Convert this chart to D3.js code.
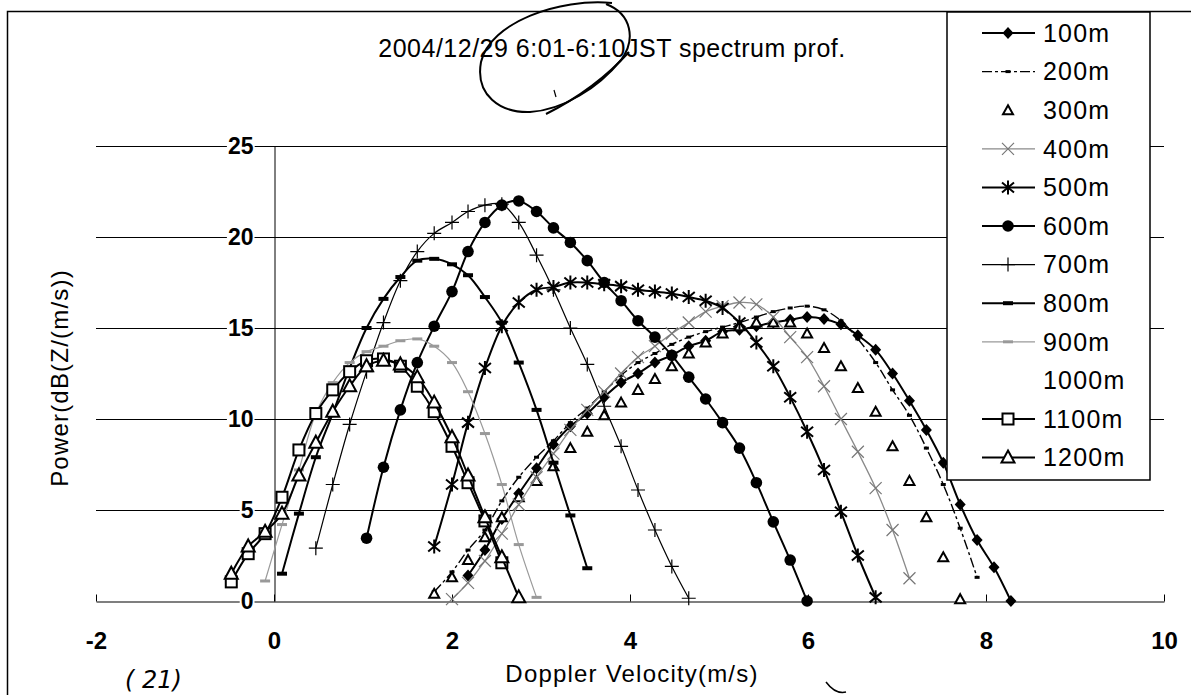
<!DOCTYPE html>
<html>
<head>
<meta charset="utf-8">
<script src="https://cdn.jsdelivr.net/npm/d3@7"></script>
<style>
  html, body { margin: 0; padding: 0; background: #fff; }
  #chart { width: 1191px; height: 695px; }
  text { font-family: "Liberation Sans", Arial, sans-serif; fill: #000; }
</style>
</head>
<body>
<div id="chart"></div>
<script>
// Doppler velocity bins (m/s) shared by every height
const velocity = [-0.48, -0.29, -0.10, 0.09, 0.28, 0.47, 0.66, 0.85, 1.04, 1.23,
  1.42, 1.61, 1.80, 2.00, 2.18, 2.37, 2.56, 2.75, 2.95, 3.14,
  3.33, 3.52, 3.71, 3.90, 4.09, 4.28, 4.47, 4.66, 4.85, 5.04,
  5.23, 5.42, 5.61, 5.80, 5.99, 6.18, 6.37, 6.56, 6.76, 6.95,
  7.14, 7.33, 7.52, 7.71, 7.90, 8.09, 8.28];

const xTicks = [-2, 0, 2, 4, 6, 8, 10];
const yTicks = [0, 5, 10, 15, 20, 25];

const heights = ["100m", "200m", "300m", "400m", "500m", "600m",
  "700m", "800m", "900m", "1000m", "1100m", "1200m"];

// power dB(Z/(m/s)); first value sits on velocity[startBin]
const p100m = [1.4, 2.8, 4.5, 5.9, 7.3, 8.6, 9.6, 10.3, 11.2, 12.0, 12.5, 13.1, 13.5, 14.0, 14.3, 14.8,
  14.9, 15.1, 15.3, 15.45, 15.6, 15.5, 15.2, 14.6, 13.8, 12.5, 11.0, 9.4, 7.6, 5.3, 3.35, 1.85, 0];
const p200m = [0.5, 1.6, 2.8, 3.9, 5.5, 6.8, 7.9, 8.8, 9.8, 10.6, 11.5, 12.4, 13.1, 13.6, 14.1, 14.5,
  14.8, 15.05, 15.3, 15.6, 15.9, 16.1, 16.2, 16.0, 15.4, 14.4, 13.1, 11.6, 10.2, 8.4, 6.4, 4.0, 1.3];
const p300m = [0.4, 1.3, 2.25, 3.5, 4.6, 5.7, 6.6, 7.4, 8.4, 9.3, 10.2, 10.9, 11.6, 12.2, 12.9, 13.6,
  14.2, 14.7, 15.1, 15.3, 15.3, 15.3, 14.7, 13.9, 12.9, 11.7, 10.4, 8.5, 6.6, 4.6, 2.4, 0.1];
const p400m = [0.1, 1.0, 2.2, 3.7, 5.3, 6.8, 8.1, 9.4, 10.5, 11.5, 12.5, 13.4, 14.0, 14.7, 15.3, 15.9,
  16.2, 16.4, 16.3, 15.6, 14.5, 13.4, 11.8, 10.0, 8.2, 6.2, 3.9, 1.25];
const p500m = [3.0, 6.4, 9.8, 12.8, 15.1, 16.4, 17.1, 17.25, 17.5, 17.5, 17.4, 17.3, 17.1, 17.0, 16.9,
  16.7, 16.5, 16.1, 15.3, 14.2, 12.9, 11.2, 9.3, 7.2, 4.9, 2.5, 0.2];
const p600m = [3.45, 7.35, 10.5, 13.1, 15.1, 17.0, 19.2, 20.8, 21.75, 21.98, 21.4, 20.5, 19.7, 18.7,
  17.5, 16.5, 15.4, 14.5, 13.5, 12.3, 11.1, 9.8, 8.4, 6.5, 4.35, 2.25, 0];
const p700m = [2.9, 6.4, 9.7, 12.6, 15.3, 17.6, 19.2, 20.2, 20.8, 21.4, 21.75, 21.8, 20.8, 19.0, 17.1,
  15.0, 13.0, 10.7, 8.5, 6.1, 3.9, 1.9, 0.15];
const p800m = [1.5, 4.8, 7.9, 10.3, 12.8, 15.0, 16.6, 17.8, 18.7, 18.8, 18.5, 17.9, 16.7, 15.3, 13.1,
  10.5, 7.6, 4.7, 1.8];
const p900m = [1.1, 4.2, 7.2, 10.3, 12.0, 13.1, 13.7, 14.0, 14.3, 14.4, 14.0, 13.1, 11.5, 9.2, 6.4, 3.1, 0.2];
const p1000m = [];
const p1100m = [1.05, 2.6, 3.7, 5.7, 8.3, 10.3, 11.6, 12.6, 13.2, 13.3, 12.9, 11.8, 10.4, 8.5, 6.5, 4.4, 2.1];
const p1200m = [1.5, 3.0, 3.8, 4.8, 6.9, 8.7, 10.4, 11.8, 12.9, 13.2, 13.0, 12.3, 10.9, 9.0, 6.9, 4.6, 2.4, 0.2];

const startBin = [14, 12, 12, 13, 12, 8, 5, 3, 2, 0, 0, 0];
const powers = [p100m, p200m, p300m, p400m, p500m, p600m, p700m, p800m, p900m, p1000m, p1100m, p1200m];

// how each height is drawn (line + marker)
const looks = [
  { stroke: "#000", width: 2, dash: null, marker: "diamond" },
  { stroke: "#000", width: 1.4, dash: "10,3,3,3", marker: "dash" },
  { stroke: "none", width: 0, dash: null, marker: "smallTri" },
  { stroke: "#8a8a8a", width: 1.3, dash: null, marker: "cross" },
  { stroke: "#000", width: 2, dash: null, marker: "star" },
  { stroke: "#000", width: 2, dash: null, marker: "dot" },
  { stroke: "#000", width: 1.2, dash: null, marker: "plus" },
  { stroke: "#000", width: 2, dash: null, marker: "bar" },
  { stroke: "#9a9a9a", width: 1.2, dash: null, marker: "grayBar" },
  { stroke: "none", width: 0, dash: null, marker: null },
  { stroke: "#000", width: 2, dash: null, marker: "square" },
  { stroke: "#000", width: 2, dash: null, marker: "tri" }
];

const series = heights.map((h, k) => ({
  name: h,
  points: powers[k].map((p, j) => [velocity[startBin[k] + j], p]),
  look: looks[k]
}));

function drawMarker(g, type) {
  switch (type) {
    case "diamond":
      g.append("path").attr("d", "M0,-6L5.5,0L0,6L-5.5,0Z").attr("fill", "#000");
      break;
    case "dash":
      g.append("rect").attr("x", -2.5).attr("y", -1.5).attr("width", 5).attr("height", 3).attr("fill", "#000");
      break;
    case "smallTri":
      g.append("path").attr("d", "M0,-5L5,4L-5,4Z").attr("fill", "#fff")
        .attr("stroke", "#000").attr("stroke-width", 2);
      break;
    case "cross":
      g.append("path").attr("d", "M-6,-6L6,6M-6,6L6,-6").attr("stroke", "#777").attr("stroke-width", 1.2);
      break;
    case "star":
      g.append("path").attr("d", "M0,-7V7M-6,-5L6,5M-6,5L6,-5").attr("stroke", "#000").attr("stroke-width", 2);
      break;
    case "dot":
      g.append("circle").attr("r", 5.8).attr("fill", "#000");
      break;
    case "plus":
      g.append("path").attr("d", "M-7,0H7M0,-7V7").attr("stroke", "#000").attr("stroke-width", 1.2);
      break;
    case "bar":
      g.append("rect").attr("x", -5).attr("y", -2).attr("width", 10).attr("height", 4).attr("fill", "#000");
      break;
    case "grayBar":
      g.append("rect").attr("x", -5).attr("y", -1.5).attr("width", 10).attr("height", 3).attr("fill", "#999");
      break;
    case "square":
      g.append("rect").attr("x", -5.5).attr("y", -5.5).attr("width", 11).attr("height", 11)
        .attr("fill", "#fff").attr("stroke", "#000").attr("stroke-width", 2);
      break;
    case "tri":
      g.append("path").attr("d", "M0,-7L6.5,5L-6.5,5Z").attr("fill", "#fff")
        .attr("stroke", "#000").attr("stroke-width", 2);
      break;
  }
}

function renderChart(containerId) {
  const svg = d3.select(containerId).append("svg")
    .attr("width", 1191)
    .attr("height", 695);

  svg.append("rect").attr("width", 1191).attr("height", 695).attr("fill", "#fff");

  // outer chart frame (left and top edges are inside the picture)
  svg.append("path")
    .attr("d", "M7.5,695V11.5H1191")
    .attr("fill", "none").attr("stroke", "#000").attr("stroke-width", 1.5);

  const x = d3.scaleLinear().domain([-2, 10]).range([96, 1164]);
  const y = d3.scaleLinear().domain([0, 25]).range([601, 146]);

  // horizontal gridlines
  svg.append("g").selectAll("line")
    .data(yTicks.filter(t => t > 0))
    .join("line")
    .attr("x1", x(-2)).attr("x2", x(10))
    .attr("y1", d => Math.round(y(d)) + 0.5).attr("y2", d => Math.round(y(d)) + 0.5)
    .attr("stroke", "#000").attr("stroke-width", 1)
    .attr("shape-rendering", "crispEdges");

  // x axis: ticks point up into the plot
  const xAxis = svg.append("g")
    .attr("transform", `translate(0,${Math.round(y(0)) + 0.5})`)
    .call(d3.axisBottom(x).tickValues(xTicks).tickSize(-7).tickSizeOuter(0).tickPadding(30));
  xAxis.select(".domain").attr("stroke", "#000").attr("stroke-width", 1.2);
  xAxis.selectAll(".tick line").attr("stroke", "#000");
  xAxis.selectAll(".tick text")
    .style("font-size", "24px")
    .style("font-weight", "bold")
    .text(d => d < 0 ? "-" + Math.abs(d) : d);

  // y axis sits at velocity 0
  const yAxis = svg.append("g")
    .attr("transform", `translate(${Math.round(x(0)) + 0.5},0)`)
    .call(d3.axisLeft(y).tickValues(yTicks).tickSize(0).tickSizeOuter(0).tickPadding(21));
  yAxis.select(".domain").attr("stroke", "#000").attr("stroke-width", 1);
  yAxis.selectAll(".tick text").style("font-size", "23px").style("font-weight", "bold");
  yAxis.selectAll(".tick").each(function () {
    const t = d3.select(this).select("text");
    const b = t.node().getBBox();
    d3.select(this).insert("rect", "text")
      .attr("x", b.x - 1).attr("y", b.y + 2)
      .attr("width", b.width + 2).attr("height", b.height - 4)
      .attr("fill", "#fff");
  });

  // series
  const line = d3.line()
    .x(d => x(d[0]))
    .y(d => y(d[1]))
    .curve(d3.curveCatmullRom.alpha(0.5));

  const plot = svg.append("g");
  series.forEach(s => {
    if (s.points.length === 0) return;
    if (s.look.stroke !== "none") {
      plot.append("path")
        .datum(s.points)
        .attr("d", line)
        .attr("fill", "none")
        .attr("stroke", s.look.stroke)
        .attr("stroke-width", s.look.width)
        .attr("stroke-dasharray", s.look.dash);
    }
    s.points.forEach(p => {
      const g = plot.append("g").attr("transform", `translate(${x(p[0])},${y(p[1])})`);
      drawMarker(g, s.look.marker);
    });
  });

  // title
  svg.append("text")
    .attr("x", 612).attr("y", 57)
    .attr("text-anchor", "middle")
    .style("font-size", "25px")
    .style("letter-spacing", "0.5px")
    .text("2004/12/29 6:01-6:10JST spectrum prof.");

  // axis titles
  svg.append("text")
    .attr("transform", "translate(60,378) rotate(-90)")
    .attr("text-anchor", "middle")
    .attr("dy", "0.35em")
    .style("font-size", "24px")
    .style("letter-spacing", "1.2px")
    .text("Power(dB(Z/(m/s))");

  svg.append("text")
    .attr("x", 632).attr("y", 682)
    .attr("text-anchor", "middle")
    .style("font-size", "24px")
    .style("letter-spacing", "1.2px")
    .text("Doppler Velocity(m/s)");

  // legend
  const legend = svg.append("g");
  legend.append("rect")
    .attr("x", 947).attr("y", 12).attr("width", 203).attr("height", 468)
    .attr("fill", "#fff").attr("stroke", "#000").attr("stroke-width", 1.5);

  series.forEach((s, i) => {
    const ly = 33 + i * 38.6;
    if (s.look.stroke !== "none") {
      legend.append("line")
        .attr("x1", 982).attr("x2", 1035).attr("y1", ly).attr("y2", ly)
        .attr("stroke", s.look.stroke)
        .attr("stroke-width", s.look.width)
        .attr("stroke-dasharray", s.look.dash);
    }
    if (s.look.marker) {
      drawMarker(legend.append("g").attr("transform", `translate(1008,${ly})`), s.look.marker);
    }
    legend.append("text")
      .attr("x", 1043).attr("y", ly).attr("dy", "0.35em")
      .style("font-size", "25px")
      .style("letter-spacing", "1.2px")
      .text(s.name);
  });

  // hand-drawn pen marks on the scanned sheet
  const pen = svg.append("g").attr("fill", "none").attr("stroke", "#000").attr("stroke-width", 2);
  pen.append("path").attr("d", "M612,3C560,-2,490,22,481,62C475,95,500,113,530,112C563,110,598,88,621,60C636,40,632,14,606,4");
  pen.append("path").attr("d", "M546,114C570,102,600,84,629,52");
  pen.append("path").attr("d", "M554,90L556,97").attr("stroke-width", 1.2);
  pen.append("path").attr("d", "M826,682C832,690,838,694,846,692").attr("stroke-width", 1.5);
  svg.append("text")
    .attr("x", 125).attr("y", 688)
    .style("font-size", "24px")
    .style("font-style", "italic")
    .style("font-family", "DejaVu Sans")
    .text("( 21)");
}

renderChart("#chart");
</script>
</body>
</html>
